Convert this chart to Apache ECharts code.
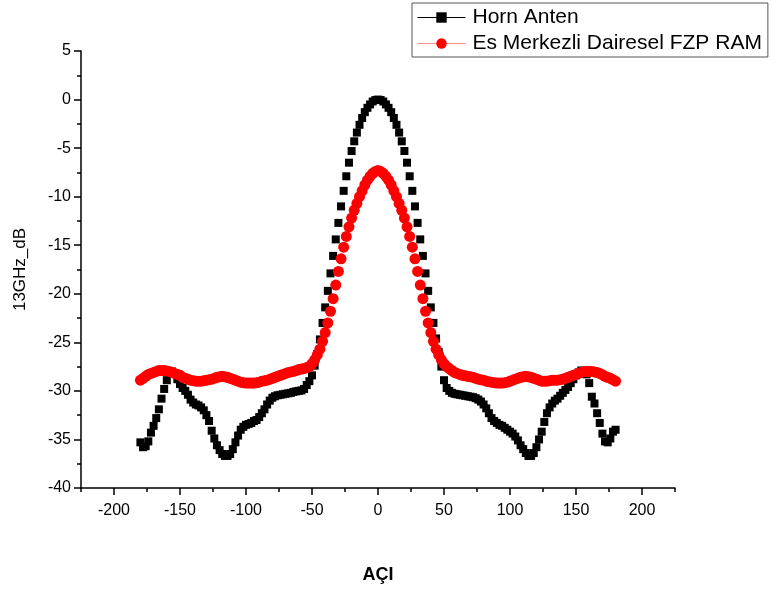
<!DOCTYPE html>
<html>
<head>
<meta charset="utf-8">
<script src="https://cdn.jsdelivr.net/npm/echarts@6/dist/echarts.min.js"></script>
<style>
html,body{margin:0;padding:0;background:#fff;}
#chart{width:772px;height:589px;}
</style>
</head>
<body>
<div id="chart"></div>
<script>
const angles = [
-180,-178,-176,-174,-172,-170,-168,-166,-164,-162,
-160,-158,-156,-154,-152,-150,-148,-146,-144,-142,
-140,-138,-136,-134,-132,-130,-128,-126,-124,-122,
-120,-118,-116,-114,-112,-110,-108,-106,-104,-102,
-100,-98,-96,-94,-92,-90,-88,-86,-84,-82,
-80,-78,-76,-74,-72,-70,-68,-66,-64,-62,
-60,-58,-56,-54,-52,-50,-48,-46,-44,-42,
-40,-38,-36,-34,-32,-30,-28,-26,-24,-22,
-20,-18,-16,-14,-12,-10,-8,-6,-4,-2,
0,2,4,6,8,10,12,14,16,18,
20,22,24,26,28,30,32,34,36,38,
40,42,44,46,48,50,52,54,56,58,
60,62,64,66,68,70,72,74,76,78,
80,82,84,86,88,90,92,94,96,98,
100,102,104,106,108,110,112,114,116,118,
120,122,124,126,128,130,132,134,136,138,
140,142,144,146,148,150,152,154,156,158,
160,162,164,166,168,170,172,174,176,178,
180];

const hornAnten = [
-35.3,-35.8,-35.7,-35.2,-34.3,-33.6,-32.8,-31.9,-30.8,-29.8,
-28.9,-28.2,-28.0,-28.2,-28.8,-29.3,-29.7,-30.0,-30.4,-30.9,
-31.2,-31.4,-31.5,-31.7,-32.0,-32.5,-33.1,-34.1,-34.9,-35.6,
-36.1,-36.5,-36.7,-36.7,-36.5,-36.0,-35.3,-34.6,-34.0,-33.7,
-33.5,-33.4,-33.3,-33.1,-33.0,-32.7,-32.3,-31.9,-31.4,-31.0,
-30.7,-30.55,-30.45,-30.4,-30.35,-30.3,-30.25,-30.2,-30.1,-30.05,
-30.0,-29.95,-29.8,-29.4,-29.0,-28.4,-27.4,-26.2,-24.7,-23.0,
-21.4,-19.7,-17.9,-16.1,-14.4,-12.7,-11.0,-9.4,-7.9,-6.5,
-5.3,-4.3,-3.4,-2.6,-1.9,-1.3,-0.85,-0.5,-0.2,-0.05,
0,-0.05,-0.2,-0.5,-0.85,-1.3,-1.9,-2.6,-3.4,-4.3,
-5.3,-6.5,-7.9,-9.4,-11.0,-12.7,-14.4,-16.1,-17.9,-19.7,
-21.4,-23.0,-24.6,-26.0,-27.5,-28.9,-29.7,-30.0,-30.2,-30.3,
-30.35,-30.4,-30.45,-30.5,-30.55,-30.6,-30.65,-30.75,-30.9,-31.1,
-31.4,-31.8,-32.3,-32.8,-33.1,-33.3,-33.5,-33.6,-33.8,-34.0,
-34.2,-34.4,-34.7,-35.1,-35.6,-36.0,-36.4,-36.7,-36.7,-36.4,
-35.8,-35.0,-34.2,-33.2,-32.3,-31.7,-31.3,-31.0,-30.8,-30.5,
-30.2,-29.9,-29.6,-29.2,-28.8,-28.4,-28.1,-27.9,-28.0,-28.3,
-29.2,-30.6,-31.3,-32.3,-33.3,-34.4,-35.2,-35.3,-34.9,-34.2,
-34.0];

const fzpRam = [
-28.9,-28.7,-28.5,-28.3,-28.2,-28.1,-28.0,-27.9,-27.9,-27.9,
-27.95,-28.0,-28.1,-28.2,-28.3,-28.4,-28.6,-28.7,-28.8,-28.9,
-28.95,-29.0,-29.0,-29.0,-28.95,-28.9,-28.85,-28.8,-28.7,-28.6,
-28.55,-28.5,-28.55,-28.6,-28.7,-28.8,-28.9,-29.0,-29.1,-29.15,
-29.2,-29.2,-29.2,-29.2,-29.15,-29.1,-29.0,-28.95,-28.9,-28.8,
-28.7,-28.6,-28.5,-28.4,-28.3,-28.2,-28.1,-28.05,-28.0,-27.9,
-27.8,-27.75,-27.7,-27.6,-27.5,-27.2,-26.8,-26.3,-25.7,-24.9,
-24.0,-23.0,-21.8,-20.5,-19.1,-17.7,-16.4,-15.2,-14.1,-13.1,
-12.2,-11.4,-10.7,-10.0,-9.4,-8.8,-8.3,-7.9,-7.6,-7.4,
-7.3,-7.4,-7.6,-7.9,-8.3,-8.8,-9.4,-10.0,-10.7,-11.4,
-12.2,-13.1,-14.1,-15.2,-16.4,-17.7,-19.1,-20.5,-21.8,-23.0,
-24.0,-24.9,-25.7,-26.3,-26.8,-27.2,-27.5,-27.7,-27.9,-28.1,
-28.2,-28.3,-28.4,-28.45,-28.5,-28.55,-28.6,-28.7,-28.8,-28.85,
-28.9,-29.0,-29.05,-29.1,-29.15,-29.2,-29.2,-29.2,-29.15,-29.1,
-29.0,-28.9,-28.8,-28.7,-28.6,-28.55,-28.5,-28.55,-28.6,-28.7,
-28.8,-28.9,-29.0,-29.0,-29.0,-28.95,-28.9,-28.9,-28.9,-28.85,
-28.8,-28.7,-28.6,-28.5,-28.4,-28.3,-28.2,-28.1,-28.0,-28.0,
-28.0,-28.0,-28.05,-28.1,-28.2,-28.35,-28.5,-28.6,-28.7,-28.85,
-29.0];

const xMajorTicks = [-200,-150,-100,-50,0,50,100,150,200];
const xMinorTicks = [-225,-175,-125,-75,-25,25,75,125,175,225];
const seriesNames = ['Horn Anten','Es Merkezli Dairesel FZP RAM'];

const FONT = 'Arial, "Liberation Sans", Helvetica, sans-serif';
const pairs = (ys) => angles.map((a, i) => [a, ys[i]]);

const chart = echarts.init(document.getElementById('chart'), null, {renderer: 'canvas'});
chart.setOption({
  animation: false,
  backgroundColor: '#ffffff',
  grid: {left: 81, top: 51, width: 594, height: 439, containLabel: false},
  legend: {
    orient: 'vertical',
    left: 412,
    top: 3,
    padding: [4, 6, 3, 5],
    itemGap: 5,
    itemWidth: 48,
    itemHeight: 13,
    borderColor: '#555',
    borderWidth: 1,
    backgroundColor: '#fff',
    textStyle: {fontFamily: FONT, fontSize: 21, color: '#000', padding: [0, 0, 0, 2]},
    data: [
      {name: seriesNames[0], lineStyle: {color: '#000', width: 1, opacity: 1}},
      {name: seriesNames[1], lineStyle: {color: '#ff8a8a', width: 1, opacity: 1}}
    ]
  },
  xAxis: [{
    type: 'value',
    min: -225, max: 225,
    name: 'AÇI',
    nameLocation: 'middle',
    nameGap: 78,
    nameTextStyle: {fontFamily: FONT, fontSize: 18, fontWeight: 'bold', color: '#000'},
    axisLine: {show: true, onZero: false, lineStyle: {color: '#000', width: 1.5}},
    axisTick: {show: true, inside: false, length: 7, customValues: xMajorTicks, lineStyle: {color: '#000', width: 1.5}},
    axisLabel: {show: true, customValues: xMajorTicks, margin: 15, fontFamily: FONT, fontSize: 16, color: '#000'},
    splitLine: {show: false}
  }, {
    type: 'value',
    min: -225, max: 225,
    position: 'bottom',
    axisLine: {show: false, onZero: false},
    axisTick: {show: true, inside: false, length: 4, customValues: xMinorTicks, lineStyle: {color: '#000', width: 1.5}},
    axisLabel: {show: false},
    splitLine: {show: false}
  }],
  yAxis: {
    type: 'value',
    min: -40, max: 5, interval: 5,
    name: '13GHz_dB',
    nameLocation: 'middle',
    nameGap: 52,
    nameRotate: 90,
    nameTextStyle: {fontFamily: FONT, fontSize: 17, color: '#000'},
    axisLine: {show: true, onZero: false, lineStyle: {color: '#000', width: 1.5}},
    axisTick: {show: true, inside: false, length: 7, lineStyle: {color: '#000', width: 1.5}},
    minorTick: {show: true, splitNumber: 2, length: 4, lineStyle: {color: '#000', width: 1.5}},
    axisLabel: {margin: 10, fontFamily: FONT, fontSize: 16, color: '#000'},
    splitLine: {show: false}
  },
  series: [{
    name: seriesNames[0],
    type: 'line',
    xAxisIndex: 0,
    data: pairs(hornAnten),
    symbol: 'rect',
    symbolSize: 8,
    showAllSymbol: true,
    itemStyle: {color: '#000'},
    lineStyle: {width: 0, opacity: 0},
    z: 2
  }, {
    name: seriesNames[1],
    type: 'line',
    xAxisIndex: 0,
    data: pairs(fzpRam),
    symbol: 'circle',
    symbolSize: 11,
    showAllSymbol: true,
    itemStyle: {color: '#ff0000'},
    lineStyle: {width: 0, opacity: 0},
    z: 3
  }]
});
</script>
</body>
</html>
